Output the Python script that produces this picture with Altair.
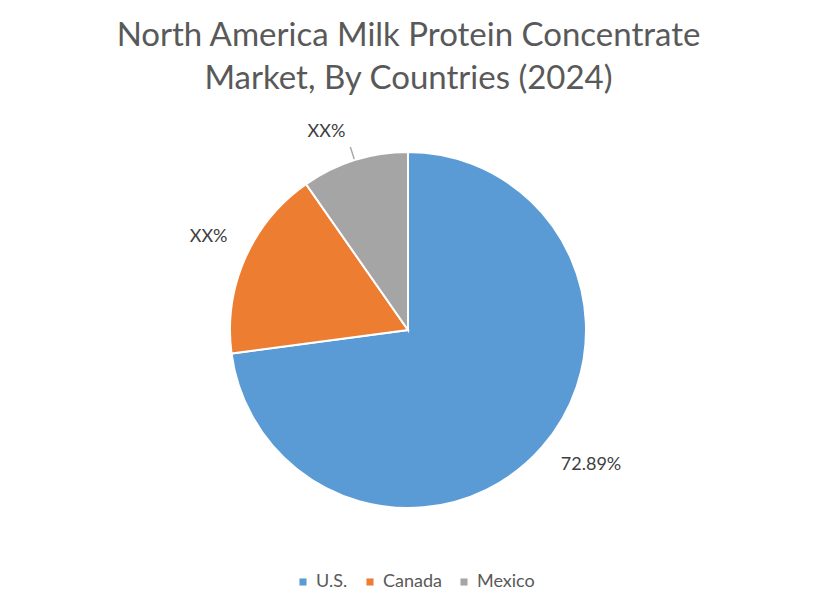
import altair as alt
import pandas as pd

countries = ["U.S.", "Canada", "Mexico"]
shares = [72.89, 17.40, 9.71]
labels = ["72.89%", "XX%", "XX%"]
colors = ["#5B9BD5", "#ED7D31", "#A5A5A5"]

df = pd.DataFrame({
    "idx": list(range(len(countries))),
    "country": countries,
    "share": shares,
    "label": labels,
})

FONT = "Lato"
CX, CY = 400, 222
R = 178
theta_scale = alt.Scale(domain=[0, 100], range=[0, 6.283185307179586])

base = (
    alt.Chart(df)
    .transform_window(cum="sum(share)", sort=[alt.SortField("idx")], frame=[None, 0])
    .transform_calculate(start="datum.cum - datum.share", mid="datum.cum - datum.share / 2")
)

arcs = base.mark_arc(outerRadius=R, stroke="white", strokeWidth=2).encode(
    x=alt.value(CX),
    y=alt.value(CY),
    theta=alt.Theta("start:Q", scale=theta_scale),
    theta2="cum:Q",
    color=alt.Color(
        "country:N",
        scale=alt.Scale(domain=countries, range=colors),
        sort=countries,
        legend=alt.Legend(
            title=None,
            orient="none",
            legendX=286,
            legendY=465,
            direction="horizontal",
            symbolType="square",
            symbolSize=50,
            symbolStrokeWidth=0,
            labelFontSize=18,
            labelFont=FONT,
            labelColor="#595959",
            labelOffset=4,
            columnPadding=13,
        ),
    ),
)

leader = (
    base.transform_filter(alt.datum.country == "Mexico")
    .transform_calculate(a="datum.mid - 0.06", b="datum.mid + 0.06")
    .mark_arc(radius=192, radius2=179, color="#A5A5A5")
    .encode(
        x=alt.value(CX),
        y=alt.value(CY),
        theta=alt.Theta("a:Q", scale=theta_scale),
        theta2="b:Q",
    )
)


def label_layer(name, radius, dx, dy):
    return (
        base.transform_filter(alt.datum.country == name)
        .mark_text(radius=radius, dx=dx, dy=dy, fontSize=18, font=FONT, color="#404040")
        .encode(
            x=alt.value(CX),
            y=alt.value(CY),
            theta=alt.Theta("mid:Q", scale=theta_scale),
            text="label:N",
        )
    )


texts = [
    label_layer("U.S.", 226, 13, -14),
    label_layer("Canada", 220, 2, -4),
    label_layer("Mexico", 205, -20, -2),
]

chart = (
    alt.layer(arcs, leader, *texts)
    .properties(
        width=801,
        height=484,
        padding={"left": 0, "right": 0, "top": 100, "bottom": 0},
        autosize=alt.AutoSizeParams(type="none"),
        title=alt.TitleParams(
            text=["North America Milk Protein Concentrate", "Market, By Countries (2024)"],
            fontSize=33,
            font=FONT,
            fontWeight="normal",
            color="#595959",
            anchor="middle",
            lineHeight=43,
            offset=12,
        ),
    )
    .configure_view(stroke=None)
)

chart.save("out.html", embed_options={"renderer": "svg", "actions": False})
